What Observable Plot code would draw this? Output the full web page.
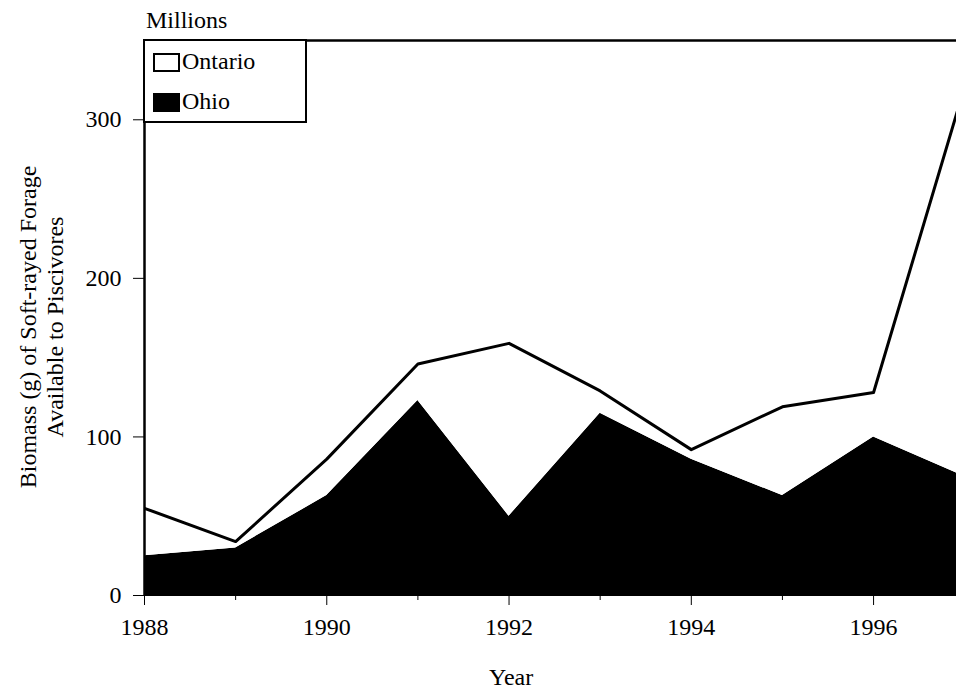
<!DOCTYPE html>
<html>
<head>
<meta charset="utf-8">
<script src="https://cdn.jsdelivr.net/npm/d3@7"></script>
<script src="https://cdn.jsdelivr.net/npm/@observablehq/plot@0.6"></script>
<style>
  * { font-family: "Liberation Serif", "Times New Roman", serif !important; }
  html, body { margin: 0; padding: 0; background: #fff; }
  #wrap { position: relative; width: 956px; height: 691px; color: #000; overflow: hidden; }
  #wrap svg { position: absolute; left: 0; top: 0; }
  .ov { position: absolute; font-size: 24px; line-height: 1; white-space: nowrap; }
  #legend { position: absolute; left: 143px; top: 39px; width: 160px; height: 80px; border: 2px solid #000; background: #fff; }
  .sw { position: absolute; width: 23px; height: 15px; border: 2px solid #000; }
  #ytitle { position: absolute; left: 42px; top: 327px; transform: translate(-50%, -50%) rotate(-90deg); text-align: center; font-size: 24px; line-height: 27px; white-space: nowrap; }
</style>
</head>
<body>
<div id="wrap"></div>
<script>
const years = [1988, 1989, 1990, 1991, 1992, 1993, 1994, 1995, 1996, 1997];
const ohio = [25, 30, 63, 123, 50, 115, 86, 63, 100, 75];
const ontario = [30, 4, 23, 23, 109, 14, 6, 56, 28, 246];
const states = ["Ohio", "Ontario"];
const stateColors = ["#000000", "#ffffff"];
const yTicks = [0, 100, 200, 300];
const majorYears = [1988, 1990, 1992, 1994, 1996];
const minorYears = [1989, 1991, 1993, 1995];

const data = [];
years.forEach((yr, i) => {
  data.push({year: yr, state: "Ohio", value: ohio[i]});
  data.push({year: yr, state: "Ontario", value: ontario[i]});
});
const totals = years.map((yr, i) => ({year: yr, total: ohio[i] + ontario[i]}));

const FONT = "Liberation Serif";
const plot = Plot.plot({
  width: 956,
  height: 691,
  marginLeft: 144,
  marginRight: 0,
  marginTop: 40,
  marginBottom: 96,
  style: {fontFamily: FONT, fontSize: "24px", color: "#000", background: "transparent"},
  x: {domain: [1988, 1996.91], label: null},
  y: {domain: [0, 350], label: null},
  color: {domain: states, range: stateColors},
  marks: [
    Plot.areaY(data, Plot.stackY({x: "year", y: "value", fill: "state", order: states, clip: true})),
    Plot.lineY(totals, {x: "year", y: "total", stroke: "#000", strokeWidth: 3, clip: true}),
    Plot.ruleY([0], {stroke: "#000", strokeWidth: 1}),
    Plot.ruleY([350], {stroke: "#000", strokeWidth: 2.5}),
    Plot.ruleX([1988], {stroke: "#000", strokeWidth: 2.5}),
    Plot.axisY({ticks: yTicks, tickSize: 11, tickPadding: 12, tickFormat: d => String(d), label: null, fontSize: 24}),
    Plot.axisX({ticks: majorYears, tickSize: 10, tickPadding: 12, tickFormat: d => String(d), label: null, fontSize: 24}),
    Plot.axisX({ticks: minorYears, tickSize: 5, tickFormat: () => "", label: null})
  ]
});
const wrap = document.getElementById("wrap");
wrap.appendChild(plot);
plot.querySelectorAll("text").forEach(t => t.setAttribute("font-family", FONT));

function addText(parent, txt, left, top) {
  const d = document.createElement("div");
  d.className = "ov";
  d.textContent = txt;
  d.style.left = left + "px";
  d.style.top = top + "px";
  parent.appendChild(d);
  return d;
}
addText(wrap, "Millions", 146, 8);
addText(wrap, "Year", 489, 665);

const yt = document.createElement("div");
yt.id = "ytitle";
yt.innerHTML = "Biomass (g) of Soft-rayed Forage<br>Available to Piscivores";
wrap.appendChild(yt);

const lg = document.createElement("div");
lg.id = "legend";
wrap.appendChild(lg);
[[states[1], stateColors[1], 12], [states[0], stateColors[0], 52]].forEach(([name, col, top]) => {
  const s = document.createElement("div");
  s.className = "sw";
  s.style.left = "8px";
  s.style.top = top + "px";
  s.style.background = col;
  lg.appendChild(s);
  addText(lg, name, 37, top - 4);
});
</script>
</body>
</html>
